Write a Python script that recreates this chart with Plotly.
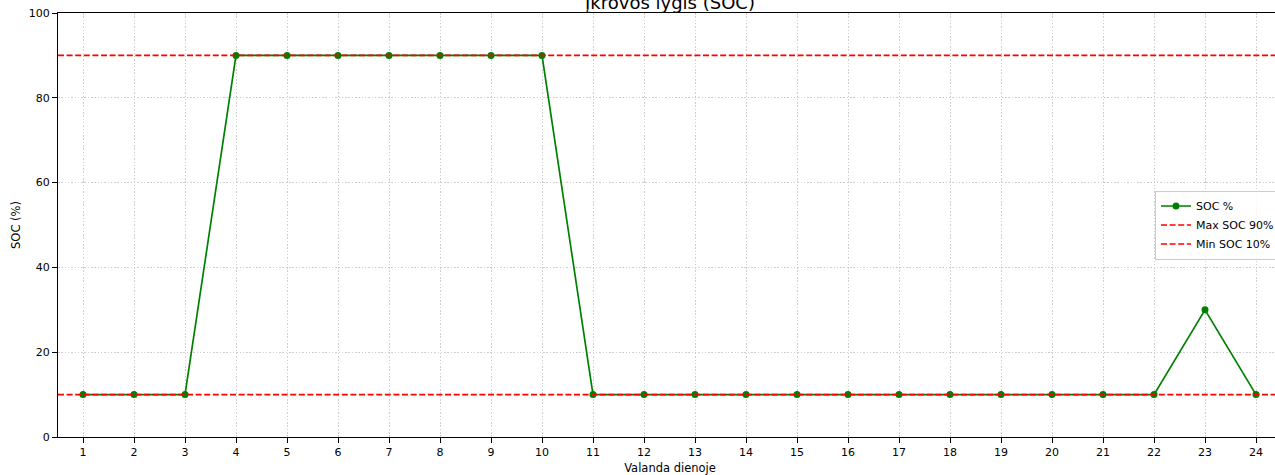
import plotly.graph_objects as go

hours = list(range(1, 25))
soc = [10, 10, 10, 90, 90, 90, 90, 90, 90, 90,
       10, 10, 10, 10, 10, 10, 10, 10, 10, 10, 10, 10, 30, 10]
max_soc = 90
min_soc = 10
y_ticks = [0, 20, 40, 60, 80, 100]

W, H = 1320, 475
L, T, B, R = 58, 13, 38, 38
font = "DejaVu Sans"
fs = 11
x_range = [1 - 25 / 51, 24 + 26 / 51]
dash = "6px,2.6px"
grid_dash = "1.5px,1.8px"
grid_color = "#cfcfcf"

fig = go.Figure()
fig.add_trace(go.Scatter(
    x=hours, y=soc, mode="lines+markers", name="SOC %",
    line=dict(color="green", width=1.7),
    marker=dict(color="green", size=7),
))
fig.add_trace(go.Scatter(
    x=x_range, y=[max_soc, max_soc], mode="lines", name=f"Max SOC {max_soc}%",
    line=dict(color="red", width=1.7, dash=dash),
))
fig.add_trace(go.Scatter(
    x=x_range, y=[min_soc, min_soc], mode="lines", name=f"Min SOC {min_soc}%",
    line=dict(color="red", width=1.7, dash=dash),
))

fig.add_annotation(
    text="Įkrovos lygis (SOC)", xref="paper", yref="paper", x=0.5, y=1,
    xanchor="center", yanchor="bottom", yshift=-2, showarrow=False,
    font=dict(family=font, size=18, color="black"),
)

fig.update_layout(
    width=W, height=H,
    margin=dict(l=L, r=R, t=T, b=B, pad=0, autoexpand=False),
    paper_bgcolor="white", plot_bgcolor="white",
    font=dict(family=font, size=fs, color="black"),
    showlegend=True,
    legend=dict(
        x=(1155 - L) / (W - L - R), y=(437 - 225) / (437 - 13),
        xanchor="left", yanchor="middle",
        bgcolor="rgba(255,255,255,0.8)", bordercolor="#cccccc", borderwidth=1,
        font=dict(family=font, size=fs, color="black"),
        tracegroupgap=0, itemwidth=30,
    ),
    xaxis=dict(
        range=x_range, tickmode="array", tickvals=hours,
        ticktext=[str(h) for h in hours], automargin=False,
        showline=True, linecolor="black", linewidth=1, mirror=True,
        ticks="outside", ticklen=5, tickcolor="black", tickwidth=1,
        showgrid=True, gridcolor=grid_color, griddash=grid_dash, gridwidth=1,
        zeroline=False,
        title=dict(text="Valanda dienoje", font=dict(size=11.5), standoff=6),
        tickfont=dict(size=fs),
    ),
    yaxis=dict(
        range=[0, 100], tickmode="array", tickvals=y_ticks, automargin=False,
        showline=True, linecolor="black", linewidth=1, mirror=True,
        ticks="outside", ticklen=5, tickcolor="black", tickwidth=1,
        showgrid=True, gridcolor=grid_color, griddash=grid_dash, gridwidth=1,
        zeroline=False,
        title=dict(text="SOC (%)", font=dict(size=11.5), standoff=5),
        tickfont=dict(size=fs),
    ),
)

fig.write_html(
    "out.html",
    config={"displayModeBar": False},
    post_script="document.body.style.margin='0';document.body.style.overflow='hidden';",
)
